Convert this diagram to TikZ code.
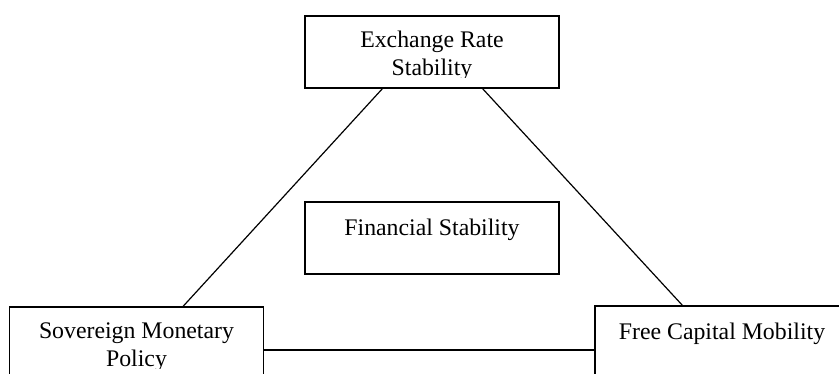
\documentclass[tikz,border=0pt]{standalone}
\usepackage{fontspec}
\setmainfont{Liberation Serif}
\begin{document}
\begin{tikzpicture}[x=1pt,y=-1pt,
  box/.style={draw, line width=1.5pt, rectangle, minimum width=254pt,
    minimum height=72pt, inner sep=0pt, outer sep=0pt, anchor=north west},
  link/.style={line width=1.2pt},
  boxtext/.style={anchor=base, inner sep=0pt, font=\fontsize{23.8}{27.5}\selectfont}
]
\useasboundingbox (0,0) rectangle (839,374);
\clip (0,0) rectangle (839,374);

% the four boxes
\node[box] (ers) at (305,16) {};
\node[box] (fin) at (305,202) {};
\node[box] (smp) at (9.5,307) {};
\node[box] (fcm) at (595,306) {};

% box texts, kept inside each box's inner area
\begin{scope}
  \clip (ers.north west) rectangle ([yshift=10pt]ers.south east);
  \node[boxtext] (ers-t) at ([yshift=-32pt]ers.north)
    {\parbox[t]{240pt}{\centering Exchange Rate\\Stability}};
\end{scope}
\begin{scope}
  \clip (fin.north west) rectangle ([yshift=10pt]fin.south east);
  \node[boxtext] (fin-t) at ([yshift=-34pt]fin.north)
    {\parbox[t]{240pt}{\centering Financial Stability}};
\end{scope}
\begin{scope}
  \clip (smp.north west) rectangle ([yshift=10pt]smp.south east);
  \node[boxtext] (smp-t) at ([yshift=-32pt]smp.north)
    {\parbox[t]{240pt}{\centering Sovereign Monetary\\Policy}};
\end{scope}
\begin{scope}
  \clip (fcm.north west) rectangle ([yshift=10pt]fcm.south east);
  \node[boxtext] (fcm-t) at ([yshift=-34pt]fcm.north)
    {\parbox[t]{240pt}{\centering Free Capital Mobility}};
\end{scope}

% triangle connectors
\draw[link] ([xshift=-49pt]ers.south) -- ([xshift=46pt]smp.north);
\draw[link] ([xshift=50pt]ers.south) -- ([xshift=-39pt]fcm.north);
\draw[link] ([yshift=-7pt]smp.east) -- ([yshift=-8pt]fcm.west);
\end{tikzpicture}
\end{document}
